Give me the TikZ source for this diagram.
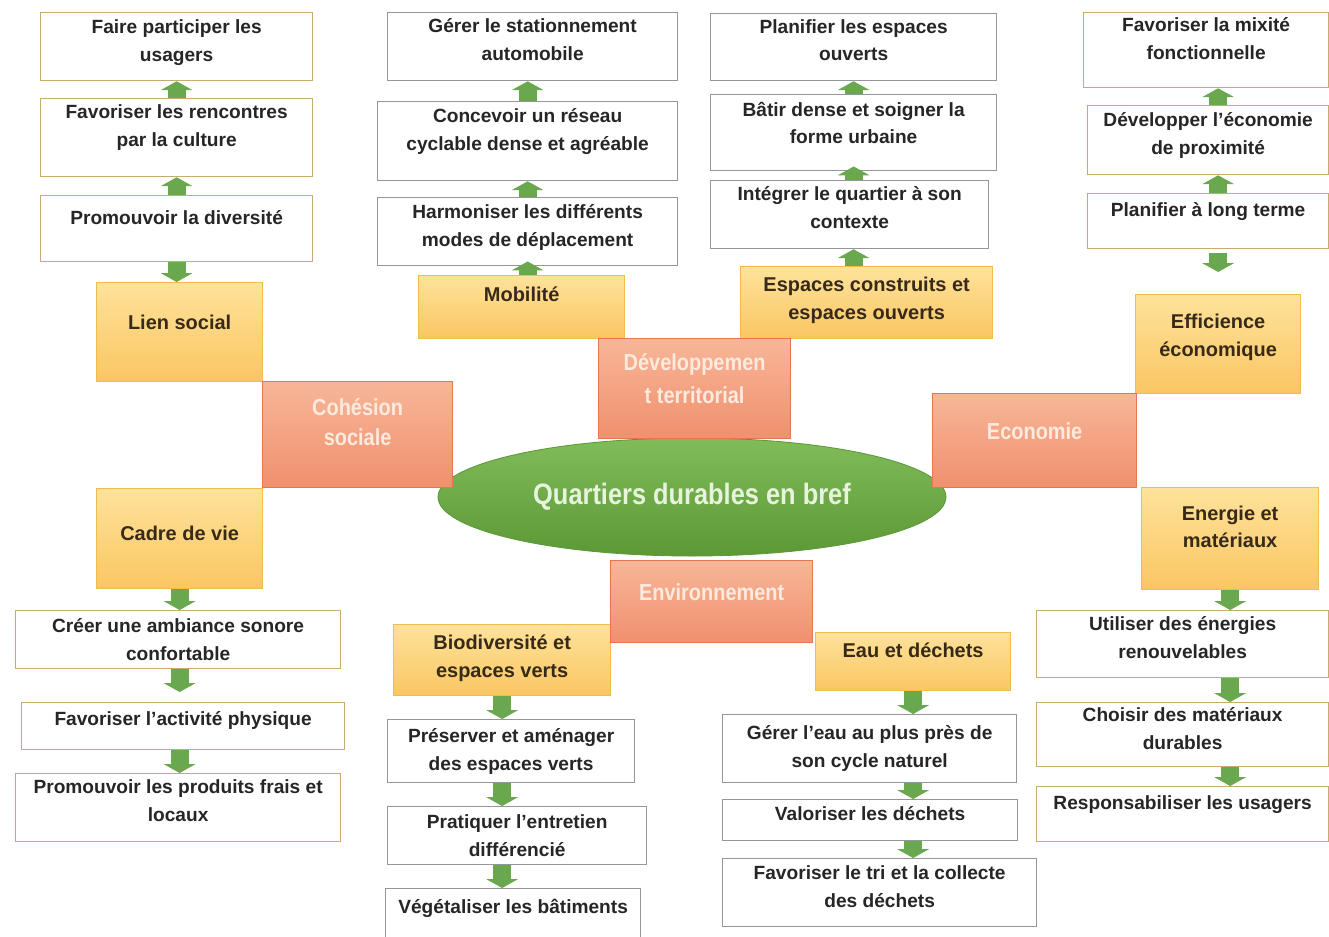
\documentclass[tikz,border=0pt]{standalone}
\usepackage{fontspec}
\setmainfont{Liberation Sans}
\newfontfamily\condfont[FakeStretch=0.86]{Liberation Sans}
\usetikzlibrary{positioning,shapes.geometric,arrows.meta}
\definecolor{tanline}{RGB}{200,170,115}
\definecolor{greyline}{RGB}{150,150,150}
\definecolor{boxtext}{RGB}{38,38,38}
\definecolor{themetop}{RGB}{254,226,155}
\definecolor{themebot}{RGB}{250,198,98}
\definecolor{themeline}{RGB}{240,190,72}
\definecolor{themetext}{RGB}{55,42,25}
\definecolor{pillartop}{RGB}{247,182,152}
\definecolor{pillarbot}{RGB}{240,144,110}
\definecolor{pillarline}{RGB}{230,118,82}
\definecolor{pillartext}{RGB}{252,234,222}
\definecolor{coretop}{RGB}{128,188,88}
\definecolor{corebot}{RGB}{92,152,54}
\definecolor{coretext}{RGB}{232,243,222}
\definecolor{arrowgreen}{RGB}{106,168,79}

\begin{document}
\begin{tikzpicture}[x=0.025cm,y=-0.025cm,
	wh/.style 2 args={minimum width=#1*0.025cm,minimum height=#2*0.025cm},
	lift/.style={text depth=#1},
	box/.style={rectangle,anchor=north west,inner sep=0pt,line width=0.9pt,align=center},
	action/.style={box,draw=tanline,fill=white,text=boxtext,font=\bfseries\fontsize{13.6}{19.8}\selectfont},
	action grey/.style={action,draw=greyline},
	theme/.style={box,draw=themeline,top color=themetop,bottom color=themebot,text=themetext,font=\bfseries\fontsize{14.2}{19.8}\selectfont},
	pillar/.style={box,draw=pillarline,top color=pillartop,bottom color=pillarbot,text=pillartext,font=\condfont\bfseries\fontsize{16.5}{22}\selectfont},
	core/.style={ellipse,inner sep=0pt,draw=corebot,line width=0.6pt,top color=coretop,bottom color=corebot,text=coretext,font=\condfont\bfseries\fontsize{21}{24}\selectfont},
	garrow/.style={draw=arrowgreen,line width=0.45cm,-{Triangle[width=0.78cm,length=0.22cm]}}]
		\fill [white] (0,0) rectangle (1329,936);
		\useasboundingbox (0,0) rectangle (1329,936);

		% white boxes
		\node [action,wh={272}{68},lift=9pt] (fp) at (40,12) {Faire participer les\\usagers};
		\node [action,wh={272}{78},lift=17pt] (fr) at (40,98) {Favoriser les rencontres\\par la culture};
		\node [action,wh={272}{66},lift=16pt] (pd) at (40,195) {Promouvoir la diversité};
		\node [action grey,wh={290}{68},lift=10pt] (gs) at (387,12) {Gérer le stationnement\\automobile};
		\node [action grey,wh={300}{79},lift=17pt] (cr) at (377,101) {Concevoir un réseau\\cyclable dense et agréable};
		\node [action grey,wh={300}{68},lift=9pt] (hm) at (377,197) {Harmoniser les différents\\modes de déplacement};
		\node [action grey,wh={286}{67},lift=10pt] (pe) at (710,13) {Planifier les espaces\\ouverts};
		\node [action grey,wh={286}{76},lift=14pt] (bd) at (710,94) {Bâtir dense et soigner la\\forme urbaine};
		\node [action grey,wh={278}{68},lift=10pt] (iq) at (710,180) {Intégrer le quartier à son\\contexte};
		\node [action,wh={245}{75},lift=17pt] (fm) at (1083,12) {Favoriser la mixité\\fonctionnelle};
		\node [action,wh={241}{69},lift=9pt] (de) at (1087,105) {Développer l’économie\\de proximité};
		\node [action,wh={241}{55},lift=16pt] (pl) at (1087,193) {Planifier à long terme};
		\node [action,wh={325}{58}] (ca) at (15,610) {Créer une ambiance sonore\\confortable};
		\node [action,wh={323}{47},lift=11pt] (fa) at (21,702) {Favoriser l’activité physique};
		\node [action,wh={325}{68},lift=10pt] (pp) at (15,773) {Promouvoir les produits frais et\\locaux};
		\node [action grey,wh={247}{63}] (pa) at (387,719) {Préserver et aménager\\des espaces verts};
		\node [action grey,wh={259}{58}] (pt) at (387,806) {Pratiquer l’entretien\\différencié};
		\node [action grey,wh={255}{50},lift=11pt] (vb) at (385,888) {Végétaliser les bâtiments};
		\node [action grey,wh={294}{68}] (ge) at (722,714) {Gérer l’eau au plus près de\\son cycle naturel};
		\node [action grey,wh={295}{41},lift=10pt] (vd) at (722,799) {Valoriser les déchets};
		\node [action grey,wh={314}{68},lift=9pt] (ft) at (722,858) {Favoriser le tri et la collecte\\des déchets};
		\node [action,wh={292}{67},lift=9pt] (ue) at (1036,610) {Utiliser des énergies\\renouvelables};
		\node [action,wh={292}{64},lift=9pt] (cm) at (1036,702) {Choisir des matériaux\\durables};
		\node [action,wh={292}{55},lift=16pt] (ru) at (1036,786) {Responsabiliser les usagers};

		% themes
		\node [theme,wh={166}{99},lift=14pt] (ls) at (96,282) {Lien social};
		\node [theme,wh={166}{100},lift=7pt] (cv) at (96,488) {Cadre de vie};
		\node [theme,wh={206}{63},lift=18pt] (mo) at (418,275) {Mobilité};
		\node [theme,wh={252}{72},lift=6pt] (ec) at (740,266) {Espaces construits et\\espaces ouverts};
		\node [theme,wh={165}{99},lift=13pt] (ef) at (1135,294) {Efficience\\économique};
		\node [theme,wh={177}{102},lift=17pt] (em) at (1141,487) {Energie et\\matériaux};
		\node [theme,wh={217}{71},lift=6pt] (bv) at (393,624) {Biodiversité et\\espaces verts};
		\node [theme,wh={195}{58},lift=17pt] (ed) at (815,632) {Eau et déchets};

		\node [core,minimum width=508*0.025cm,minimum height=118*0.025cm] (qd) at (692,497) {Quartiers durables en bref};

		% pillars
		\node [pillar,wh={190}{106},lift=18pt] (cs) at (262,381) {Cohésion\\sociale};
		\node [pillar,wh={192}{100},lift=14pt,font=\condfont\bfseries\fontsize{16.5}{23.5}\selectfont] (dt) at (598,338) {Développemen\\t territorial};
		\node [pillar,wh={204}{94},lift=14pt] (eco) at (932,393) {Economie};
		\node [pillar,wh={202}{82},lift=14pt] (env) at (610,560) {Environnement};

		% arrows
		\draw [garrow] (fr.north) -- (fp.south);
		\draw [garrow] (pd.north) -- (fr.south);
		\draw [garrow] (pd.south) -- (ls.north -| pd.south);
		\draw [garrow] (cr.north) -- (gs.south -| cr.north);
		\draw [garrow] (hm.north) -- (cr.south);
		\draw [garrow,shorten >=-0.12cm] (mo.north -| cr) -- (hm.south -| cr);
		\draw [garrow] (bd.north) -- (pe.south);
		\draw [garrow,shorten >=-0.12cm] (iq.north -| bd) -- (bd.south);
		\draw [garrow] (ec.north -| bd) -- (iq.south -| bd);
		\draw [garrow] (de.north -| ef) -- (fm.south -| ef);
		\draw [garrow] (pl.north -| ef) -- (de.south -| ef);
		\draw [garrow,shorten <=0.1cm,shorten >=0.55cm] (pl.south -| ef) -- (ef.north);
		\draw [garrow] (cv.south) -- (ca.north -| cv);
		\draw [garrow,shorten >=0.25cm] (ca.south -| cv) -- (fa.north -| cv);
		\draw [garrow] (fa.south -| cv) -- (pp.north -| cv);
		\draw [garrow] (bv.south) -- (pa.north -| bv);
		\draw [garrow] (pa.south -| bv) -- (pt.north -| bv);
		\draw [garrow] (pt.south -| bv) -- (vb.north -| bv);
		\draw [garrow] (ed.south) -- (ge.north -| ed);
		\draw [garrow] (ge.south -| ed) -- (vd.north -| ed);
		\draw [garrow] (vd.south -| ed) -- (ft.north -| ed);
		\draw [garrow] (em.south) -- (ue.north -| em);
		\draw [garrow] (ue.south -| em) -- (cm.north -| em);
		\draw [garrow] (cm.south -| em) -- (ru.north -| em);
\end{tikzpicture}
\end{document}
